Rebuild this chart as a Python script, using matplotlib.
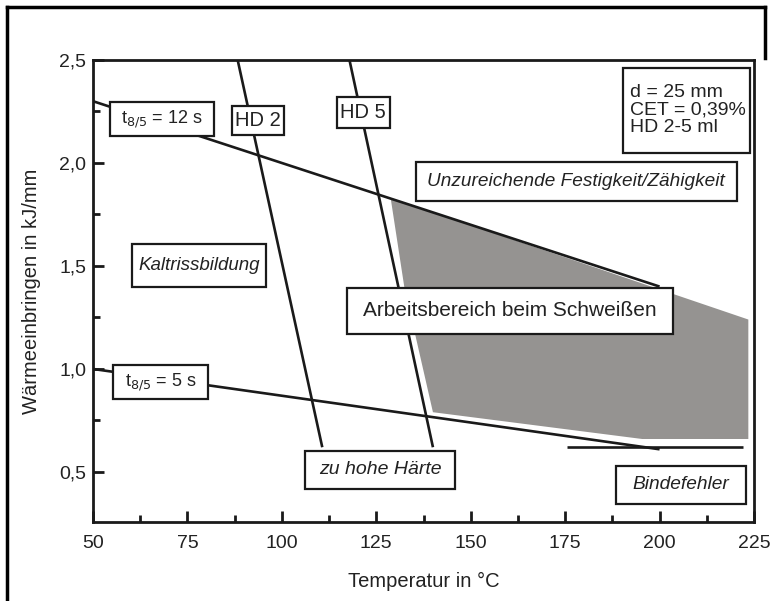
import matplotlib.pyplot as plt
import matplotlib.transforms as mtransforms
from matplotlib.lines import Line2D
from matplotlib.patches import Rectangle
from matplotlib.ticker import MultipleLocator

plt.rcParams['font.family'] = ['Liberation Sans', 'DejaVu Sans']

# cooling time lines t8/5 (temperature, heat input)
t85_12s_x = [50, 200]
t85_12s_y = [2.30, 1.40]
t85_5s_x = [50, 200]
t85_5s_y = [1.00, 0.61]

# hydrogen lines
hd2_x = [88.3, 110.7]
hd2_y = [2.50, 0.62]
hd5_x = [117.9, 140.0]
hd5_y = [2.50, 0.62]

# lack of fusion limit
binde_x = [175.5, 222.0]
binde_y = [0.62, 0.62]

# working range (grey area)
area_x = [128.8, 223.5, 223.5, 195.4, 140.0, 132.4]
area_y = [1.83, 1.24, 0.66, 0.66, 0.79, 1.40]

fig = plt.figure(figsize=(7.76, 6.01), dpi=100)
ax = fig.add_axes([93 / 776, 1 - 522 / 601, 661 / 776, 462 / 601])

ax.fill(area_x, area_y, color='#959391', lw=0, zorder=1)

dark = '#1a1a1a'
for xs, ys in [(t85_12s_x, t85_12s_y), (t85_5s_x, t85_5s_y),
               (hd2_x, hd2_y), (hd5_x, hd5_y), (binde_x, binde_y)]:
    ax.plot(xs, ys, color=dark, lw=1.9, zorder=2, solid_capstyle='butt')

ax.set_xlim(50, 225)
ax.set_ylim(0.257, 2.5)
ax.set_xticks([50, 75, 100, 125, 150, 175, 200, 225])
ax.set_yticks([0.5, 1.0, 1.5, 2.0, 2.5])
ax.set_yticklabels(['0,5', '1,0', '1,5', '2,0', '2,5'])
ax.xaxis.set_minor_locator(MultipleLocator(12.5))
ax.yaxis.set_minor_locator(MultipleLocator(0.25))
ax.tick_params(which='major', direction='in', length=8, width=2, labelsize=14,
               color=dark, labelcolor='#222222')
ax.tick_params(axis='x', which='major', pad=9)
ax.tick_params(axis='y', which='major', pad=5)
ax.tick_params(which='minor', direction='in', length=5, width=2, color=dark)
for s in ax.spines.values():
    s.set_linewidth(2)
    s.set_color(dark)

ax.set_xlabel('Temperatur in °C', fontsize=14.5, labelpad=15, color='#222222')
ax.set_ylabel('Wärmeeinbringen in kJ/mm', fontsize=14.5, labelpad=13, color='#222222')


def label(x, y, s, w, h, size=14, style='normal', ha='center', tx=0):
    # white box of w x h pixels centred on the data point (x, y)
    trans = fig.dpi_scale_trans + mtransforms.ScaledTranslation(x, y, ax.transData)
    ax.add_patch(Rectangle((-w / 200, -h / 200), w / 100, h / 100, transform=trans,
                           fc='white', ec=dark, lw=1.6, zorder=3, clip_on=False))
    ax.text(tx / 100, 0, s, transform=trans, fontsize=size, style=style, ha=ha,
            va='center', zorder=4, color='#222222', linespacing=1.05)


label(68.3, 2.215, r't$_{8/5}$ = 12 s', 104, 34, size=13)
label(68.0, 0.937, r't$_{8/5}$ = 5 s', 95, 34, size=13)
label(93.7, 2.205, 'HD 2', 52, 29, size=14.5)
label(121.5, 2.243, 'HD 5', 53, 31, size=14.5)
label(78.1, 1.50, 'Kaltrissbildung', 134, 43, style='italic', size=13.5)
label(126.0, 0.51, 'zu hohe Härte', 150, 38, style='italic', size=14)
label(205.7, 0.437, 'Bindefehler', 130, 38, style='italic', size=13.8)
label(177.9, 1.908, 'Unzureichende Festigkeit/Zähigkeit', 321, 39, style='italic', size=13.7)
label(160.4, 1.282, 'Arbeitsbereich beim Schweißen', 326, 46, size=15)
label(207.0, 2.257, 'd = 25 mm\nCET = 0,39%\nHD 2-5 ml', 127, 85, size=14,
      ha='left', tx=-56)

# outer frame of the picture
frame = dict(color='black', lw=2.5, transform=fig.transFigure)
fig.add_artist(Line2D([7 / 776, 7 / 776], [0, 1 - 7 / 601], **frame))
fig.add_artist(Line2D([7 / 776, 765 / 776], [1 - 7 / 601, 1 - 7 / 601], **frame))
fig.add_artist(Line2D([765 / 776, 765 / 776], [1 - 7 / 601, 1 - 58 / 601], **frame))

fig.savefig('out.png', dpi=100)
